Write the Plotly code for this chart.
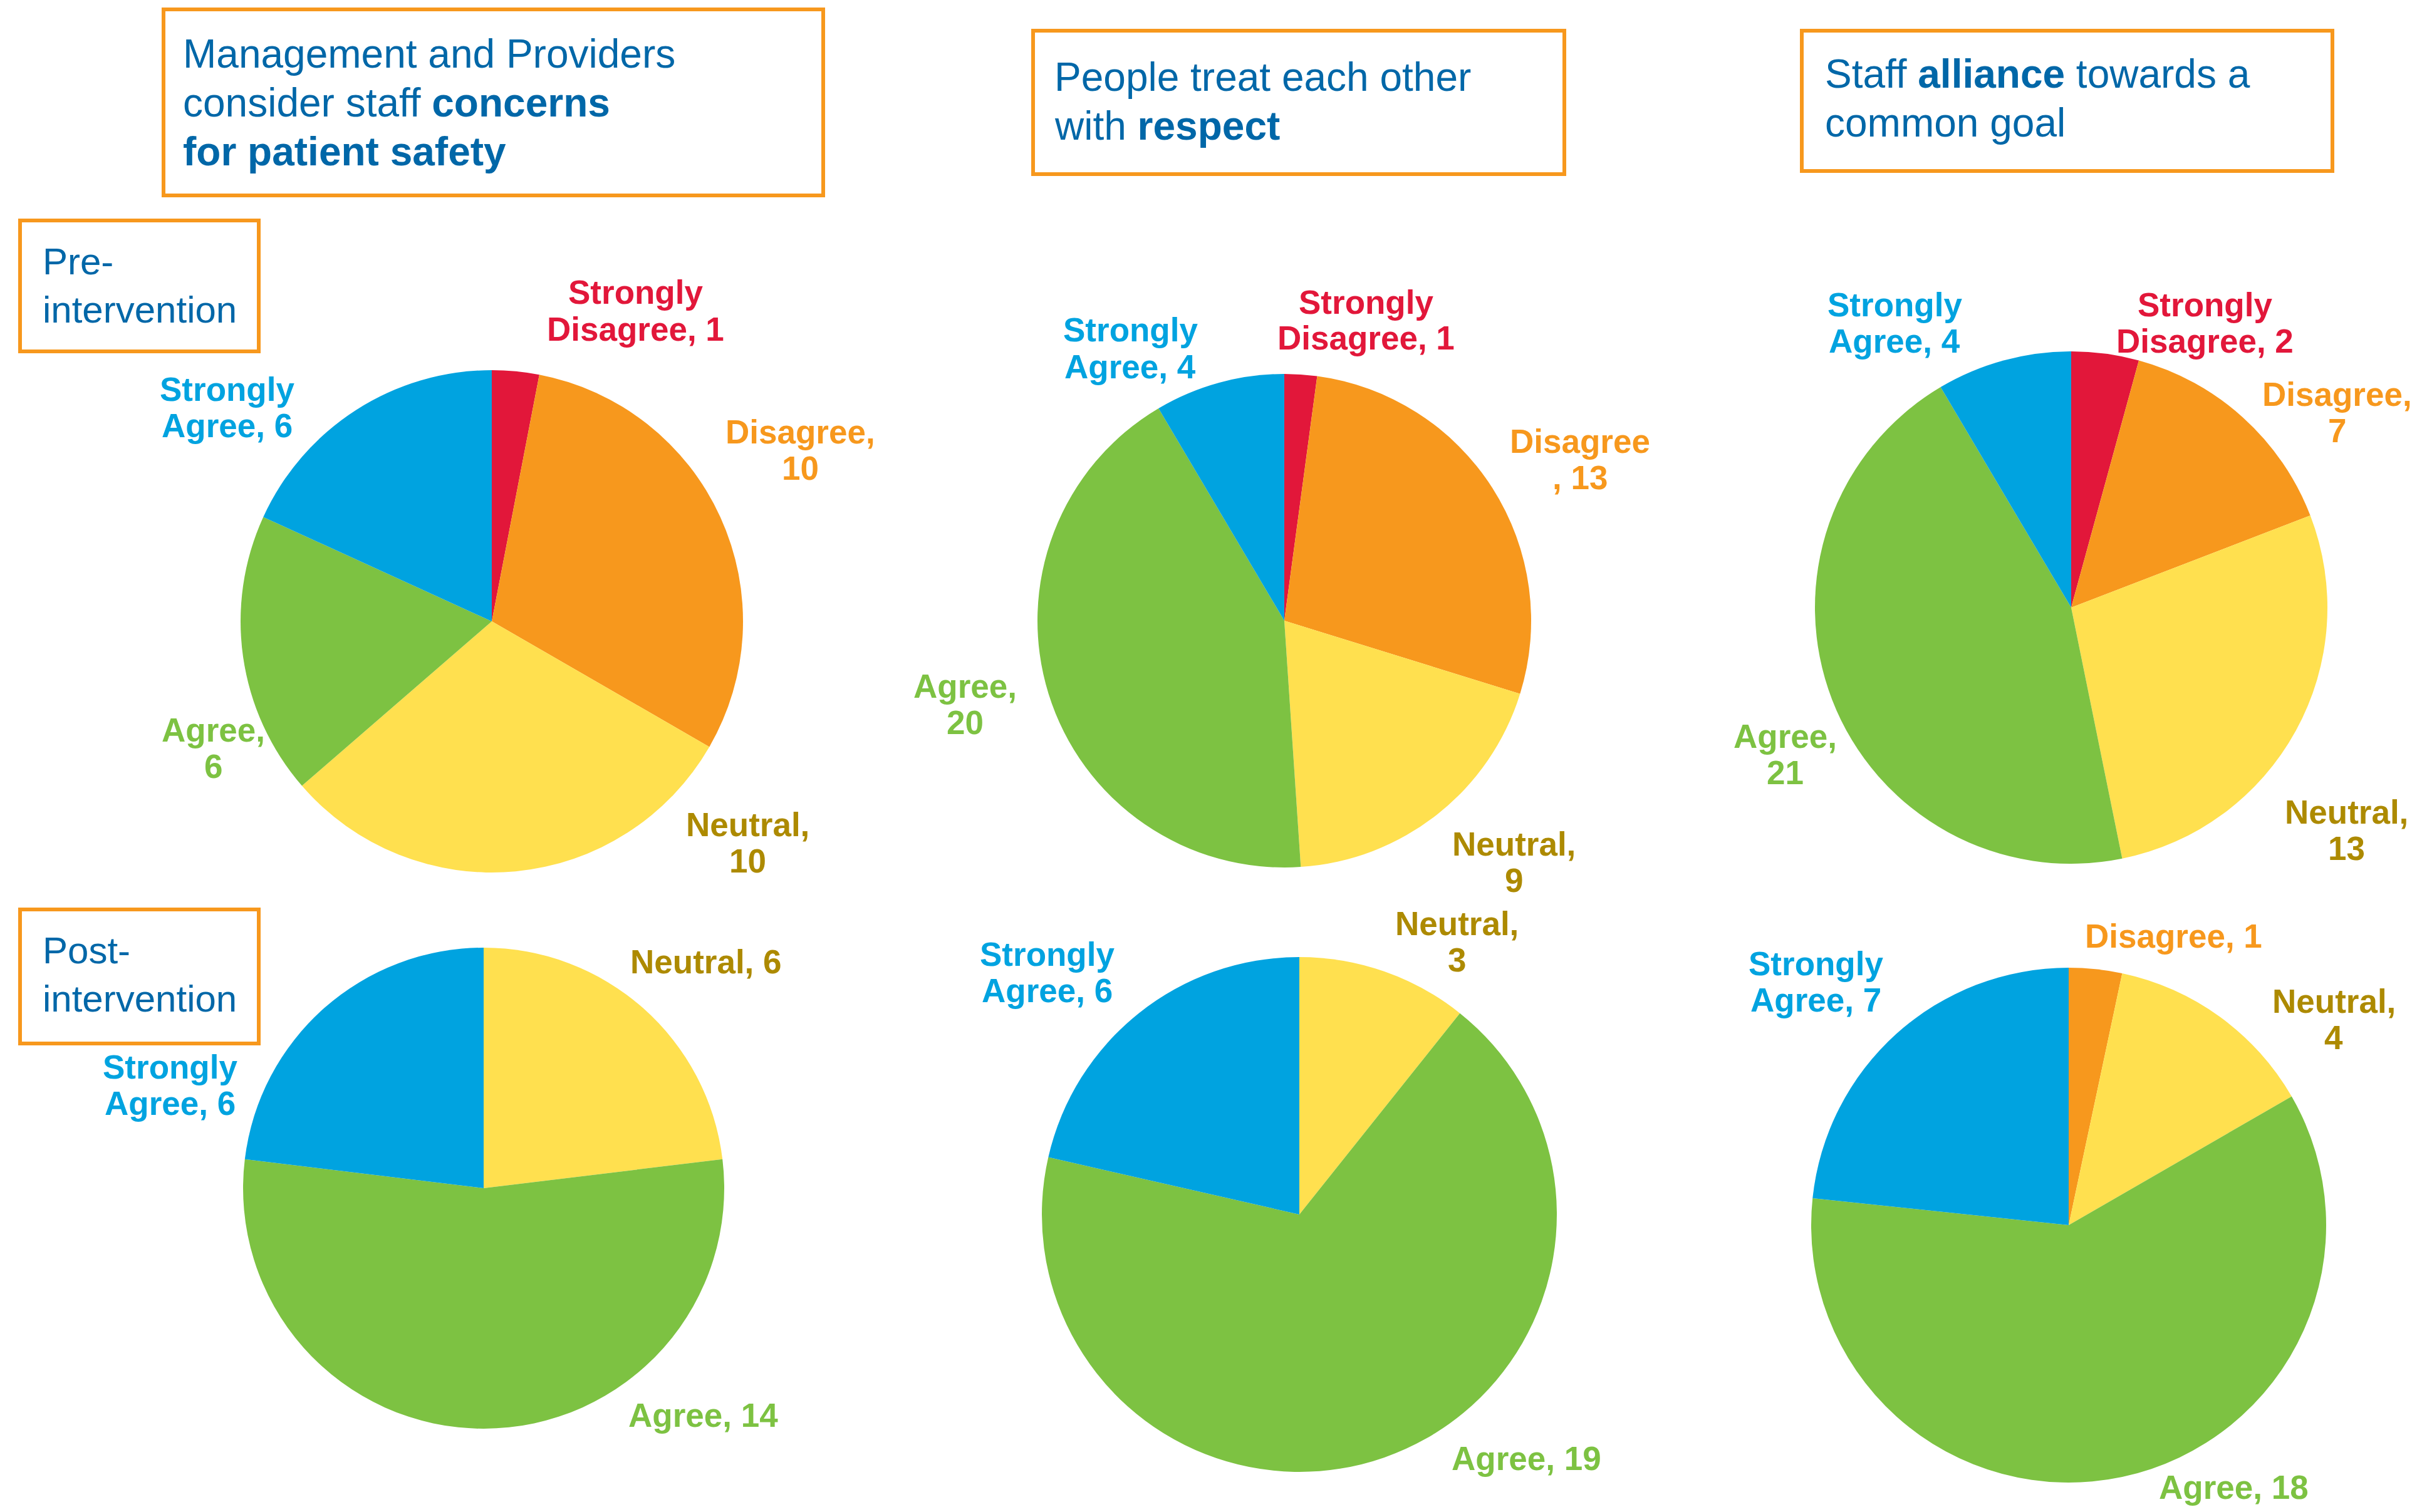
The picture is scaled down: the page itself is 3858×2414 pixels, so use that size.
import plotly.graph_objects as go

W, H = 3858, 2414

# ---------------- data ----------------
categories = ["Strongly Disagree", "Disagree", "Neutral", "Agree", "Strongly Agree"]

pre_concerns = [1, 10, 10, 6, 6]
pre_respect = [1, 13, 9, 20, 4]
pre_alliance = [2, 7, 13, 21, 4]
post_concerns = [0, 0, 6, 14, 6]
post_respect = [0, 0, 3, 19, 6]
post_alliance = [0, 1, 4, 18, 7]

titles = [
    ["Management and Providers", "consider staff <b>concerns</b>", "<b>for patient safety</b>"],
    ["People treat each other", "with <b>respect</b>"],
    ["Staff <b>alliance</b> towards a", "common goal"],
]
row_titles = [["Pre-", "intervention"], ["Post-", "intervention"]]

# label templates (line breaks as in the original)
label_fmt = {
    "pre_concerns": ["Strongly|Disagree, {}", "Disagree,|{}", "Neutral,|{}", "Agree,|{}", "Strongly|Agree, {}"],
    "pre_respect": ["Strongly|Disagree, {}", "Disagree|, {}", "Neutral,|{}", "Agree,|{}", "Strongly|Agree, {}"],
    "pre_alliance": ["Strongly|Disagree, {}", "Disagree,|{}", "Neutral,|{}", "Agree,|{}", "Strongly|Agree, {}"],
    "post_concerns": [None, None, "Neutral, {}", "Agree, {}", "Strongly|Agree, {}"],
    "post_respect": [None, None, "Neutral,|{}", "Agree, {}", "Strongly|Agree, {}"],
    "post_alliance": [None, "Disagree, {}", "Neutral,|{}", "Agree, {}", "Strongly|Agree, {}"],
}

# ---------------- styles / layout ----------------
slice_colors = ["#E2173A", "#F7981D", "#FFE04F", "#7DC242", "#00A3E0"]
text_colors = ["#E2173A", "#F7981D", "#AD8A00", "#7DC242", "#00A3E0"]
title_color = "#0067A8"
box_color = "#F7981D"
FONT = "Liberation Sans, Arial, Helvetica, sans-serif"
LABEL_SIZE = 53
LABEL_SPACING = 58
TITLE_SIZE = 64
TITLE_SPACING = 78
ROW_SIZE = 60
ROW_SPACING = 77

# pie centres / radii in pixels
pie_geom = {
    "pre_concerns": (785, 992, 401),
    "pre_respect": (2050, 991, 394),
    "pre_alliance": (3306, 970, 409),
    "post_concerns": (772, 1897, 384),
    "post_respect": (2074, 1939, 411),
    "post_alliance": (3302, 1956, 411),
}
# label block centres in pixels
label_pos = {
    "pre_concerns": [(1014, 496), (1277, 718), (1193, 1345), (340, 1194), (362, 650)],
    "pre_respect": [(2180, 511), (2522, 733), (2416, 1376), (1540, 1124), (1804, 556)],
    "pre_alliance": [(3519, 516), (3730, 658), (3745, 1325), (2849, 1204), (3024, 516)],
    "post_concerns": [None, None, (1127, 1535), (1122, 2259), (271, 1732)],
    "post_respect": [None, None, (2325, 1503), (2436, 2328), (1671, 1552)],
    "post_alliance": [None, (3469, 1494), (3725, 1628), (3565, 2374), (2898, 1567)],
}

series = {
    "pre_concerns": pre_concerns,
    "pre_respect": pre_respect,
    "pre_alliance": pre_alliance,
    "post_concerns": post_concerns,
    "post_respect": post_respect,
    "post_alliance": post_alliance,
}


def px(x):
    return x / W


def py(y):
    return 1 - y / H


def text_block(lines, x, yc, spacing, anchor, size, color, bold=False):
    out = []
    n = len(lines)
    for i, ln in enumerate(lines):
        y = yc + (i - (n - 1) / 2) * spacing
        out.append(dict(
            x=px(x), y=py(y), xref="paper", yref="paper",
            xanchor=anchor, yanchor="middle", align=anchor,
            text=("<b>%s</b>" % ln) if bold else ln,
            showarrow=False,
            font=dict(family=FONT, size=size, color=color),
        ))
    return out


fig = go.Figure()
annotations = []

for key, vals in series.items():
    cx, cy, r = pie_geom[key]
    fig.add_trace(go.Pie(
        labels=categories,
        values=vals,
        marker=dict(colors=slice_colors, line=dict(width=0)),
        sort=False,
        direction="clockwise",
        rotation=0,
        textinfo="none",
        hoverinfo="label+value",
        showlegend=False,
        domain=dict(x=[px(cx - r), px(cx + r)], y=[py(cy + r), py(cy - r)]),
    ))
    for i, v in enumerate(vals):
        fmt = label_fmt[key][i]
        pos = label_pos[key][i]
        if fmt is None or pos is None:
            continue
        lines = fmt.format(v).split("|")
        annotations += text_block(lines, pos[0], pos[1], LABEL_SPACING, "center",
                                  LABEL_SIZE, text_colors[i], bold=True)

# title boxes
title_boxes = [(261, 15, 1314, 312), (1649, 49, 2497, 278), (2876, 49, 3723, 273)]
title_text_pos = [(290, 164), (1681, 162), (2911, 157)]
row_boxes = [(32, 352, 413, 561), (32, 1452, 413, 1666)]
row_text_pos = [(66, 456), (66, 1556)]

shapes = []
for (x0, y0, x1, y1) in title_boxes + row_boxes:
    shapes.append(dict(
        type="rect", xref="paper", yref="paper",
        x0=px(x0), x1=px(x1), y0=py(y1), y1=py(y0),
        line=dict(color=box_color, width=6), fillcolor="rgba(0,0,0,0)",
    ))

for t, (x, y) in zip(titles, title_text_pos):
    annotations += text_block(t, x, y, TITLE_SPACING, "left", TITLE_SIZE, title_color)
for t, (x, y) in zip(row_titles, row_text_pos):
    annotations += text_block(t, x, y, ROW_SPACING, "left", ROW_SIZE, title_color)

fig.update_layout(
    width=W, height=H,
    margin=dict(l=0, r=0, t=0, b=0),
    paper_bgcolor="white", plot_bgcolor="white",
    shapes=shapes, annotations=annotations,
    showlegend=False,
)

fig.write_html("out.html")
